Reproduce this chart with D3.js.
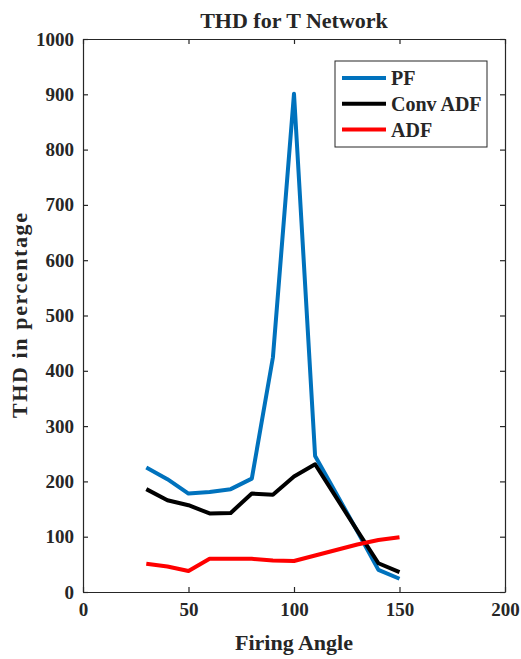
<!DOCTYPE html>
<html>
<head>
<meta charset="utf-8">
<script src="https://cdn.jsdelivr.net/npm/d3@7"></script>
<style>
  body { margin: 0; background: #fff; }
  text { font-family: "Liberation Serif", "Times New Roman", serif; font-weight: bold; fill: #262626; }
</style>
</head>
<body>
<div id="chart"></div>
<script>
// firing angles and THD values
var angles = [30, 40, 50, 60, 70, 80, 90, 100, 110, 120, 130, 140, 150];
var pf     = [225, 204, 178, 181, 186, 205, 424, 901, 246, 178, 110, 40, 24];
var convAdf = [186, 166, 157, 142, 143, 178, 176, 209, 231, 171, 111, 52, 36];
var adf    = [51, 46, 38, 60, 60, 60, 57, 56, 66, 76, 86, 94, 99];
var xTicks = [0, 50, 100, 150, 200];
var yTicks = [0, 100, 200, 300, 400, 500, 600, 700, 800, 900, 1000];

var series = [
  {name: "PF", values: pf, color: "#0072BD"},
  {name: "Conv ADF", values: convAdf, color: "#000000"},
  {name: "ADF", values: adf, color: "#FF0000"}
];

var W = 521, H = 659;
var margin = {top: 39, right: 16, bottom: 67, left: 83};
var width = W - margin.left - margin.right,
    height = H - margin.top - margin.bottom;

var svg = d3.select("#chart")
  .append("svg")
    .attr("width", W)
    .attr("height", H)
  .append("g")
    .attr("transform", "translate(" + margin.left + "," + margin.top + ")");

var x = d3.scaleLinear().domain([0, 200]).range([0, width]);
var y = d3.scaleLinear().domain([0, 1000]).range([height, 0]);

// axes, ticks pointing inward, box on all sides
svg.append("g")
  .attr("transform", "translate(0," + height + ")")
  .call(d3.axisBottom(x).tickValues(xTicks).tickFormat(d3.format("d"))
    .tickSizeInner(-5).tickSizeOuter(0).tickPadding(11));
svg.append("g")
  .call(d3.axisLeft(y).tickValues(yTicks).tickFormat(d3.format("d"))
    .tickSizeInner(-5).tickSizeOuter(0).tickPadding(9));
svg.append("g")
  .call(d3.axisTop(x).tickValues(xTicks).tickSizeInner(-5).tickSizeOuter(0).tickFormat(""));
svg.append("g")
  .attr("transform", "translate(" + width + ",0)")
  .call(d3.axisRight(y).tickValues(yTicks).tickSizeInner(-5).tickSizeOuter(0).tickFormat(""));

svg.selectAll(".domain, .tick line").attr("stroke", "#262626").attr("stroke-width", 1.2);
svg.selectAll(".tick text")
  .attr("font-family", "'Liberation Serif', serif")
  .style("font-family", "'Liberation Serif', serif")
  .style("font-size", "19px")
  .style("font-weight", "bold")
  .attr("fill", "#262626");

// lines
var line = d3.line()
  .x(function(d, i) { return x(angles[i]); })
  .y(function(d) { return y(d); });

series.forEach(function(s) {
  svg.append("path")
    .datum(s.values)
    .attr("fill", "none")
    .attr("stroke", s.color)
    .attr("stroke-width", 4)
    .attr("stroke-linejoin", "round")
    .attr("d", line);
});

// title and axis labels
svg.append("text")
  .attr("x", width / 2)
  .attr("y", -11)
  .attr("text-anchor", "middle")
  .style("font-size", "22px")
  .attr("fill", "#000")
  .text("THD for T Network");

svg.append("text")
  .attr("x", width / 2)
  .attr("y", height + 58)
  .attr("text-anchor", "middle")
  .style("font-size", "22px")
  .text("Firing Angle");

svg.append("text")
  .attr("transform", "translate(" + (-56) + "," + (height / 2) + ")rotate(-90)")
  .attr("text-anchor", "middle")
  .attr("textLength", 205)
  .attr("lengthAdjust", "spacing")
  .style("font-size", "22px")
  .text("THD in percentage");

// legend
var legend = svg.append("g")
  .attr("transform", "translate(" + (335 - margin.left) + "," + (61 - margin.top) + ")");
legend.append("rect")
  .attr("width", 152)
  .attr("height", 86)
  .attr("fill", "#fff")
  .attr("stroke", "#262626")
  .attr("stroke-width", 1);
series.forEach(function(s, i) {
  var ly = 17 + i * 25.8;
  legend.append("line")
    .attr("x1", 7).attr("x2", 51)
    .attr("y1", ly).attr("y2", ly)
    .attr("stroke", s.color)
    .attr("stroke-width", 4);
  legend.append("text")
    .attr("x", 56)
    .attr("y", ly + 7)
    .style("font-size", "20px")
    .attr("fill", "#000")
    .text(s.name);
});
</script>
</body>
</html>
